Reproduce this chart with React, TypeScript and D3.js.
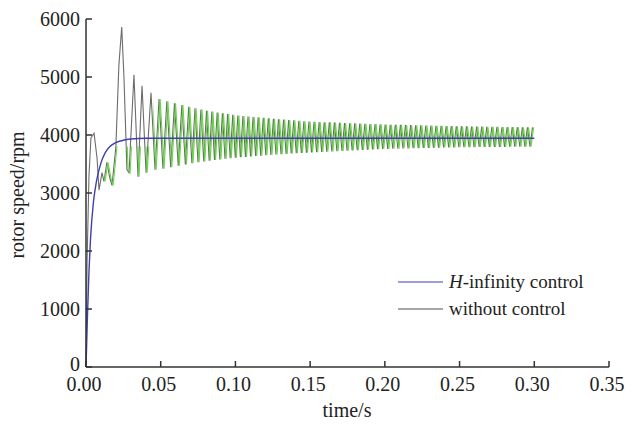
import React from "react";
import * as d3 from "d3";

const xTicks = [0, 0.05, 0.1, 0.15, 0.2, 0.25, 0.3, 0.35];
const yTicks = [0, 1000, 2000, 3000, 4000, 5000, 6000];

// H-infinity control response (time in s, speed in rpm)
const hinfTime = [0, 0.001, 0.002, 0.003, 0.005, 0.007, 0.01, 0.013, 0.016, 0.02, 0.025, 0.03, 0.04, 0.3];
const hinfSpeed = [0, 900, 1650, 2200, 2850, 3200, 3520, 3700, 3800, 3870, 3910, 3930, 3945, 3945];

// Without control: early transient turning points
const earlyTime = [0, 0.0007, 0.002, 0.0033, 0.0054, 0.0074, 0.0087, 0.0107, 0.012, 0.014, 0.016, 0.0174, 0.02, 0.022, 0.0239, 0.0254, 0.0274, 0.0288, 0.0321, 0.0348, 0.0375, 0.0402, 0.0435, 0.0462, 0.0489, 0.0515];
const earlySpeed = [0, 1800, 3300, 3950, 4030, 3600, 3050, 3350, 3200, 3530, 3250, 3130, 3800, 5200, 5860, 5000, 3400, 3350, 5040, 3280, 4850, 3350, 4730, 3400, 4620, 3420];

// Without control: sustained oscillation envelope and apparent half-period
const envTime = [0.0515, 0.06, 0.07, 0.08, 0.1, 0.125, 0.15, 0.2, 0.25, 0.3];
const envUpper = [4600, 4540, 4480, 4420, 4340, 4280, 4230, 4180, 4150, 4130];
const envLower = [3420, 3460, 3510, 3550, 3610, 3660, 3700, 3760, 3790, 3800];
const envHalfPeriod = [0.0026, 0.0025, 0.0021, 0.0018, 0.0017, 0.0017, 0.0017, 0.0017, 0.0017, 0.0017];

const W = 634;
const H = 430;
const left = 86;
const right = 609;
const top = 19;
const bottom = 367;

export default function App() {
  const x = d3.scaleLinear().domain([0, 0.35]).range([left, right]);
  const y = d3.scaleLinear().domain([0, 6000]).range([bottom, top]);
  const line = d3.line<[number, number]>().x((d) => x(d[0])).y((d) => y(d[1]));

  const hinf: [number, number][] = hinfTime.map((t, i) => [t, hinfSpeed[i]]);
  const hinfPath = d3
    .line<[number, number]>()
    .x((d) => x(d[0]))
    .y((d) => y(d[1]))
    .curve(d3.curveMonotoneX)(hinf);

  const early: [number, number][] = earlyTime.map((t, i) => [t, earlySpeed[i]]);
  const upI = d3.scaleLinear().domain(envTime).range(envUpper);
  const loI = d3.scaleLinear().domain(envTime).range(envLower);
  const hpI = d3.scaleLinear().domain(envTime).range(envHalfPeriod);
  const all: [number, number][] = early.slice();
  let k = 1;
  let t = envTime[0] + hpI(envTime[0]);
  while (t <= 0.3) {
    all.push([t, k % 2 === 1 ? upI(t) : loI(t)]);
    t += hpI(t);
    k++;
  }
  const d = line(all) || "";
  const font = "'Liberation Serif', 'Times New Roman', serif";

  return (
    <svg width={W} height={H} style={{ position: "absolute", left: 0, top: 0, background: "#fff" }} fontFamily={font}>
      <defs>
        <clipPath id="greenClip">
          <rect x={x(0.012)} y={y(3800)} width={x(0.045) - x(0.012)} height={y(3000) - y(3800)} />
          <rect x={x(0.045)} y={top} width={x(0.31) - x(0.045)} height={bottom - top} />
        </clipPath>
      </defs>
      {/* without control */}
      <path d={d} fill="none" stroke="#6c6c6c" strokeWidth={1.1} />
      <g clipPath="url(#greenClip)">
        <path d={d} fill="none" stroke="#66d844" strokeWidth={1.1} transform="translate(1.1,0)" />
      </g>
      {/* H-infinity */}
      <path d={hinfPath || ""} fill="none" stroke="#3f3fae" strokeWidth={1.4} />

      {/* axes */}
      <line x1={left} y1={top} x2={left} y2={bottom} stroke="#333" strokeWidth={1.5} />
      <line x1={left} y1={bottom} x2={right} y2={bottom} stroke="#333" strokeWidth={1.5} />
      {yTicks.map((v) => (
        <g key={v}>
          <line x1={left} x2={left + 6} y1={y(v)} y2={y(v)} stroke="#333" strokeWidth={1.5} />
          <text x={left - 6} y={y(v) + (v === 0 ? 4 : 7)} textAnchor="end" fontSize={20} fill="#222">
            {v}
          </text>
        </g>
      ))}
      {xTicks.map((v) => (
        <g key={v}>
          <line x1={x(v)} x2={x(v)} y1={bottom} y2={bottom - 6} stroke="#333" strokeWidth={1.5} />
          <text x={x(v) - 2} y={bottom + 24} textAnchor="middle" fontSize={20} fill="#222">
            {v.toFixed(2)}
          </text>
        </g>
      ))}
      <text x={347} y={417} textAnchor="middle" fontSize={20} fill="#222">
        time/s
      </text>
      <text transform={`translate(24,${(top + bottom) / 2 + 2}) rotate(-90)`} textAnchor="middle" fontSize={20} fill="#222">
        rotor speed/rpm
      </text>

      {/* legend */}
      <line x1={398} x2={443} y1={282} y2={282} stroke="#7c7cd4" strokeWidth={1.5} />
      <text x={449} y={288} fontSize={19} fill="#222">
        <tspan fontStyle="italic">H</tspan>-infinity control
      </text>
      <line x1={398} x2={443} y1={309} y2={309} stroke="#8a8a8a" strokeWidth={1.5} />
      <text x={449} y={315} fontSize={19} fill="#222">
        without control
      </text>
    </svg>
  );
}
